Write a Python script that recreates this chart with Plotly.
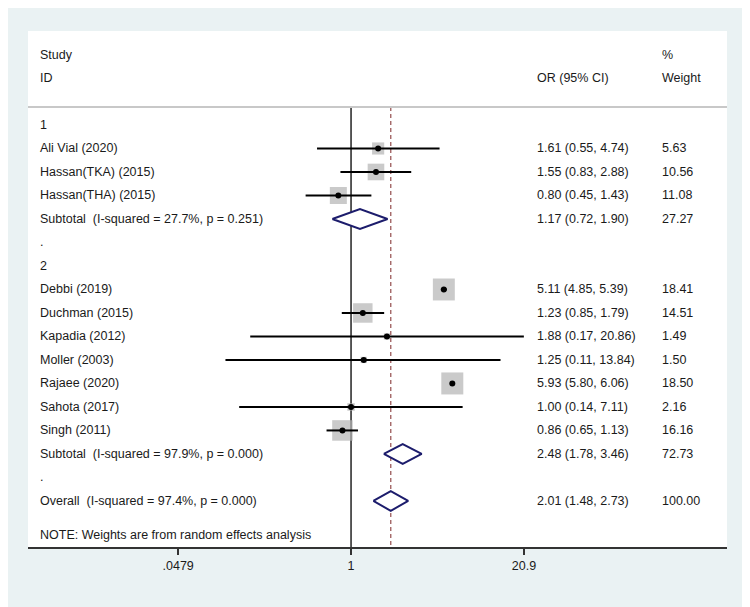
import numpy as np
import plotly.graph_objects as go

# Gruppe 1
g1_study = ['Ali Vial (2020)', 'Hassan(TKA) (2015)', 'Hassan(THA) (2015)']
g1_or = [1.61, 1.55, 0.80]
g1_lo = [0.55, 0.83, 0.45]
g1_hi = [4.74, 2.88, 1.43]
g1_w = [5.63, 10.56, 11.08]
g1_sub = ['Subtotal  (I-squared = 27.7%, p = 0.251)', 1.17, 0.72, 1.90, 27.27]

# Gruppe 2
g2_study = ['Debbi (2019)', 'Duchman (2015)', 'Kapadia (2012)', 'Moller (2003)',
            'Rajaee (2020)', 'Sahota (2017)', 'Singh (2011)']
g2_or = [5.11, 1.23, 1.88, 1.25, 5.93, 1.00, 0.86]
g2_lo = [4.85, 0.85, 0.17, 0.11, 5.80, 0.14, 0.65]
g2_hi = [5.39, 1.79, 20.86, 13.84, 6.06, 7.11, 1.13]
g2_w = [18.41, 14.51, 1.49, 1.50, 18.50, 2.16, 16.16]
g2_sub = ['Subtotal  (I-squared = 97.9%, p = 0.000)', 2.48, 1.78, 3.46, 72.73]

overall = ['Overall  (I-squared = 97.4%, p = 0.000)', 2.01, 1.48, 2.73, 100.00]
note = 'NOTE: Weights are from random effects analysis'

tick_vals = [0.0479, 1, 20.9]
tick_text = ['.0479', '1', '20.9']

FONT = 'Liberation Sans, Arial, sans-serif'
BG = '#eaf2f3'

# Zeilen aufbauen: (art, label, or, lo, hi, weight)
rows = []
for name, grp in [('1', (g1_study, g1_or, g1_lo, g1_hi, g1_w, g1_sub)),
                  ('2', (g2_study, g2_or, g2_lo, g2_hi, g2_w, g2_sub))]:
    rows.append(('head', name, None, None, None, None))
    for s, o, l, h, w in zip(*grp[:5]):
        rows.append(('study', s, o, l, h, w))
    rows.append(('pooled',) + tuple(grp[5]))
    rows.append(('head', '.', None, None, None, None))
rows.append(('pooled',) + tuple(overall))

fig = go.Figure()

# Konfidenzintervalle und Boxen
ci_x, ci_y = [], []
box_x, box_y, box_s = [], [], []
for i, (kind, lab, o, l, h, w) in enumerate(rows):
    if kind == 'study':
        ci_x += [l, h, None]
        ci_y += [i, i, None]
        box_x.append(o)
        box_y.append(i)
        box_s.append(22 * np.sqrt(w / 18.5))

fig.add_trace(go.Scatter(x=box_x, y=box_y, mode='markers',
                         marker=dict(symbol='square', size=box_s, color='#b4b4b4',
                                     line=dict(width=0)),
                         hoverinfo='skip', showlegend=False))
fig.add_trace(go.Scatter(x=ci_x, y=ci_y, mode='lines',
                         line=dict(color='black', width=2),
                         hoverinfo='skip', showlegend=False))
fig.add_trace(go.Scatter(x=box_x, y=box_y, mode='markers',
                         marker=dict(symbol='circle', size=6, color='black'),
                         hoverinfo='skip', showlegend=False))

# Rauten für Subtotal / Overall
for i, (kind, lab, o, l, h, w) in enumerate(rows):
    if kind == 'pooled':
        fig.add_trace(go.Scatter(x=[l, o, h, o, l], y=[i, i - 0.42, i, i + 0.42, i],
                                 mode='lines', fill='toself', fillcolor='white',
                                 line=dict(color='#1c1c6c', width=2),
                                 hoverinfo='skip', showlegend=False))

y_top = -0.77
y_bot = 17.96

# Linie bei 1 und gestrichelte Linie beim Gesamteffekt
fig.add_shape(type='line', xref='x', yref='y', x0=1, x1=1, y0=y_top, y1=y_bot,
              line=dict(color='black', width=1.3), layer='below')
fig.add_shape(type='line', xref='x', yref='y', x0=overall[1], x1=overall[1], y0=y_top, y1=y_bot,
              line=dict(color='#9c5a5a', width=1.3, dash='4px,3px'), layer='below')
fig.add_shape(type='line', xref='paper', yref='y', x0=0, x1=1, y0=y_top, y1=y_top,
              line=dict(color='#c8c8c8', width=2))

# Texte
ann = []
def txt(x, y, t):
    ann.append(dict(xref='paper', yref='y', x=x, y=y, text=t, showarrow=False,
                    xanchor='left', yanchor='middle',
                    font=dict(family=FONT, size=12.5, color='#1a1a1a')))

txt(0.0143, -3, 'Study')
txt(0.0143, -2, 'ID')
txt(0.7253, -2, 'OR (95% CI)')
txt(0.904, -3, '%')
txt(0.904, -2, 'Weight')
for i, (kind, lab, o, l, h, w) in enumerate(rows):
    txt(0.0143, i, lab)
    if kind != 'head':
        txt(0.7253, i, '%.2f (%.2f, %.2f)' % (o, l, h))
        txt(0.904, i, '%.2f' % w)
txt(0.0143, 17.45, note)

# Seite hat 8px Rand -> Ränder entsprechend verschoben
fig.update_layout(width=750, height=607, margin=dict(l=20, r=31, t=23, b=68),
                  paper_bgcolor=BG, plot_bgcolor='white', annotations=ann,
                  font=dict(family=FONT, size=12.5, color='#1a1a1a'))
fig.update_xaxes(type='log', range=[-2.466, 2.870], tickvals=tick_vals, ticktext=tick_text,
                 ticks='outside', ticklen=6, tickwidth=1.5, tickcolor='#333333',
                 showline=True, linecolor='#333333', linewidth=2,
                 showgrid=False, zeroline=False)
fig.update_yaxes(range=[y_bot, y_top - 3.23], visible=False, showgrid=False, zeroline=False)

fig.write_html("out.html")
